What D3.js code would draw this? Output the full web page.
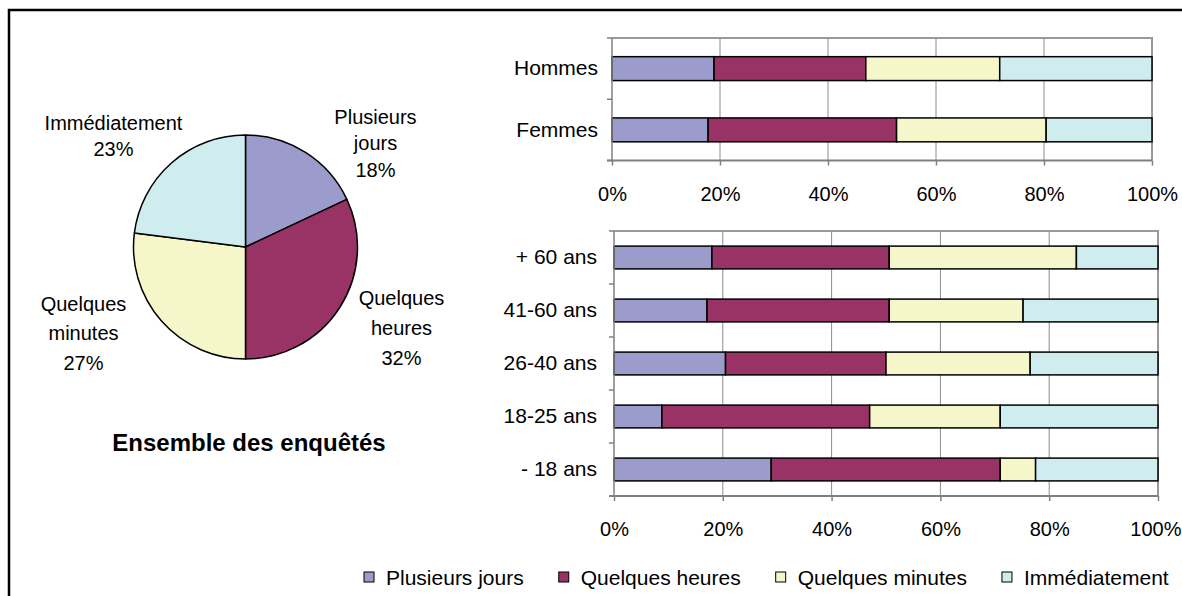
<!DOCTYPE html>
<html>
<head>
<meta charset="utf-8">
<script src="https://cdn.jsdelivr.net/npm/d3@7"></script>
<style>
  html, body { margin: 0; padding: 0; background: #fff; }
  svg { display: block; font-family: "Liberation Sans", Arial, sans-serif; }
</style>
</head>
<body>
<svg id="chart" width="1182" height="596"></svg>
<script>
// ---- Data ----
const seriesNames = ["Plusieurs jours", "Quelques heures", "Quelques minutes", "Immédiatement"];
const seriesColors = ["#9c9ccc", "#993366", "#f5f7cb", "#cfecee"];

// Whole sample (pie)
const overallValues = [18, 32, 27, 23];
const pieTitle = "Ensemble des enquêtés";

// By sex (percent of row)
const sexCategories = ["Hommes", "Femmes"];
const sexPlusieursJours = [18.9, 17.8];
const sexQuelquesHeures = [28.1, 34.9];
const sexQuelquesMinutes = [24.8, 27.7];
const sexImmediatement = [28.2, 19.6];

// By age group (percent of row)
const ageCategories = ["+ 60 ans", "41-60 ans", "26-40 ans", "18-25 ans", "- 18 ans"];
const agePlusieursJours = [18.0, 17.1, 20.5, 8.8, 28.9];
const ageQuelquesHeures = [32.6, 33.5, 29.5, 38.2, 42.1];
const ageQuelquesMinutes = [34.4, 24.6, 26.5, 24.0, 6.5];
const ageImmediatement = [15.0, 24.8, 23.5, 29.0, 22.5];

const tickValues = [0, 20, 40, 60, 80, 100];
const tickLabels = ["0%", "20%", "40%", "60%", "80%", "100%"];

// ---- Setup ----
const svg = d3.select("#chart");
const FONT = 20;
const W = 1182;
const color = d3.scaleOrdinal().domain(seriesNames).range(seriesColors);

// outer frame (top and left edges)
svg.append("path")
  .attr("d", "M9,596 L9,10 L1182,10")
  .attr("fill", "none")
  .attr("stroke", "#000")
  .attr("stroke-width", 2.5);

// ---- Pie ----
const pieCenter = [245.5, 247];
const pieR = 112;
const pieData = overallValues.map((v, i) => ({ name: seriesNames[i], value: v }));
const pie = d3.pie().sort(null).value(d => d.value);
const arc = d3.arc().innerRadius(0).outerRadius(pieR);
const pieG = svg.append("g").attr("transform", `translate(${pieCenter})`);
pieG.selectAll("path.slice")
  .data(pie(pieData))
  .join("path")
  .attr("class", "slice")
  .attr("d", arc)
  .attr("fill", d => color(d.data.name))
  .attr("stroke", "#000")
  .attr("stroke-width", 1.5)
  .attr("stroke-linejoin", "round");

// label placement around the pie (offset of the block centre, line height)
const pieLabelLayout = {
  "Plusieurs jours":  { dx: 130, dy: -104, lh: 26.5, lines: ["Plusieurs", "jours"] },
  "Quelques heures":  { dx: 156, dy: 81,   lh: 30,   lines: ["Quelques", "heures"] },
  "Quelques minutes": { dx: -162, dy: 86,  lh: 29.5, lines: ["Quelques", "minutes"] },
  "Immédiatement":    { dx: -132, dy: -111, lh: 25.5, lines: ["Immédiatement"] }
};
pieData.forEach(d => {
  const L = pieLabelLayout[d.name];
  const lines = L.lines.concat([d.value + "%"]);
  const top = L.dy - (lines.length - 1) * L.lh / 2;
  const t = pieG.append("text")
    .attr("text-anchor", "middle")
    .attr("font-size", FONT)
    .attr("fill", "#000");
  lines.forEach((s, i) => {
    t.append("tspan")
      .attr("x", L.dx)
      .attr("y", top + i * L.lh + 7)
      .text(s);
  });
});

svg.append("text")
  .attr("x", 249)
  .attr("y", 451)
  .attr("text-anchor", "middle")
  .attr("font-size", 24)
  .attr("font-weight", "bold")
  .text(pieTitle);

// ---- Stacked 100% bar charts ----
function stackedBars(opts) {
  const { categories, series, x0, x1, y0, y1, barFrac, labelPad } = opts;
  const x = d3.scaleLinear().domain([0, 100]).range([x0, x1]);
  const y = d3.scaleBand().domain(categories).range([y0, y1]).padding(0);
  const g = svg.append("g");

  // plot frame: top and right edges
  g.append("path")
    .attr("d", `M${x0},${y0} L${x1},${y0} L${x1},${y1}`)
    .attr("fill", "none")
    .attr("stroke", "#9a9a9a")
    .attr("stroke-width", 2);

  // vertical gridlines
  g.selectAll("line.grid")
    .data(tickValues.filter(v => v > 0 && v < 100))
    .join("line")
    .attr("class", "grid")
    .attr("x1", d => x(d)).attr("x2", d => x(d))
    .attr("y1", y0).attr("y2", y1)
    .attr("stroke", "#8c8c8c")
    .attr("stroke-width", 1);

  // stacked segments
  const rows = categories.map((c, i) => {
    const r = { cat: c };
    seriesNames.forEach((s, k) => { r[s] = series[k][i]; });
    return r;
  });
  const stacked = d3.stack().keys(seriesNames)(rows);
  const barH = y.bandwidth() * barFrac;
  g.selectAll("g.layer")
    .data(stacked)
    .join("g")
    .attr("class", "layer")
    .attr("fill", d => color(d.key))
    .selectAll("rect")
    .data(d => d)
    .join("rect")
    .attr("x", d => x(d[0]))
    .attr("width", d => x(d[1]) - x(d[0]))
    .attr("y", d => y(d.data.cat) + (y.bandwidth() - barH) / 2)
    .attr("height", barH)
    .attr("stroke", "#000")
    .attr("stroke-width", 1.5);

  // left axis: line, boundary ticks, category labels
  g.append("line")
    .attr("x1", x0).attr("x2", x0).attr("y1", y0).attr("y2", y1)
    .attr("stroke", "#808080").attr("stroke-width", 1.5);
  const bounds = categories.map(c => y(c)).concat([y1]);
  g.selectAll("line.ytick")
    .data(bounds)
    .join("line")
    .attr("class", "ytick")
    .attr("x1", x0 - 5).attr("x2", x0)
    .attr("y1", d => d).attr("y2", d => d)
    .attr("stroke", "#808080").attr("stroke-width", 1.5);

  const yAxis = d3.axisLeft(y).tickSize(0).tickPadding(labelPad);
  const ya = g.append("g").attr("transform", `translate(${x0},0)`).call(yAxis);
  ya.select(".domain").remove();
  ya.selectAll("text")
    .attr("font-size", 21)
    .attr("font-family", "Liberation Sans, Arial, sans-serif")
    .attr("fill", "#000");

  // bottom axis
  const xAxis = d3.axisBottom(x)
    .tickValues(tickValues)
    .tickSize(5)
    .tickPadding(21)
    .tickFormat((d, i) => tickLabels[i]);
  const xa = g.append("g").attr("transform", `translate(0,${y1})`).call(xAxis);
  xa.select(".domain").remove();
  xa.selectAll("line").attr("stroke", "#808080").attr("stroke-width", 1.5);
  xa.selectAll("text")
    .attr("font-size", FONT)
    .attr("font-family", "Liberation Sans, Arial, sans-serif")
    .attr("fill", "#000")
    .each(function (d) {
      // keep the rightmost label inside the page
      const w = this.getComputedTextLength();
      const over = x(d) + w / 2 - (W - 1);
      if (over > 0) d3.select(this).attr("x", -over);
    });
  g.append("line")
    .attr("x1", x0 - 5).attr("x2", x1).attr("y1", y1).attr("y2", y1)
    .attr("stroke", "#808080").attr("stroke-width", 2);
}

stackedBars({
  categories: sexCategories,
  series: [sexPlusieursJours, sexQuelquesHeures, sexQuelquesMinutes, sexImmediatement],
  x0: 612, x1: 1152, y0: 38, y1: 160.5, barFrac: 0.39, labelPad: 14
});

stackedBars({
  categories: ageCategories,
  series: [agePlusieursJours, ageQuelquesHeures, ageQuelquesMinutes, ageImmediatement],
  x0: 614, x1: 1158, y0: 231, y1: 496, barFrac: 0.43, labelPad: 17
});

// ---- Legend ----
const legend = svg.append("g").attr("transform", "translate(364,577)");
let lx = 0;
seriesNames.forEach(name => {
  const item = legend.append("g").attr("transform", `translate(${lx},0)`);
  item.append("rect")
    .attr("x", 0).attr("y", -5)
    .attr("width", 10).attr("height", 10)
    .attr("fill", color(name))
    .attr("stroke", "#000")
    .attr("stroke-width", 1);
  const t = item.append("text")
    .attr("x", 22).attr("y", 7.5)
    .attr("font-size", 21)
    .text(name);
  lx += 22 + t.node().getComputedTextLength() + 35;
});
</script>
</body>
</html>
